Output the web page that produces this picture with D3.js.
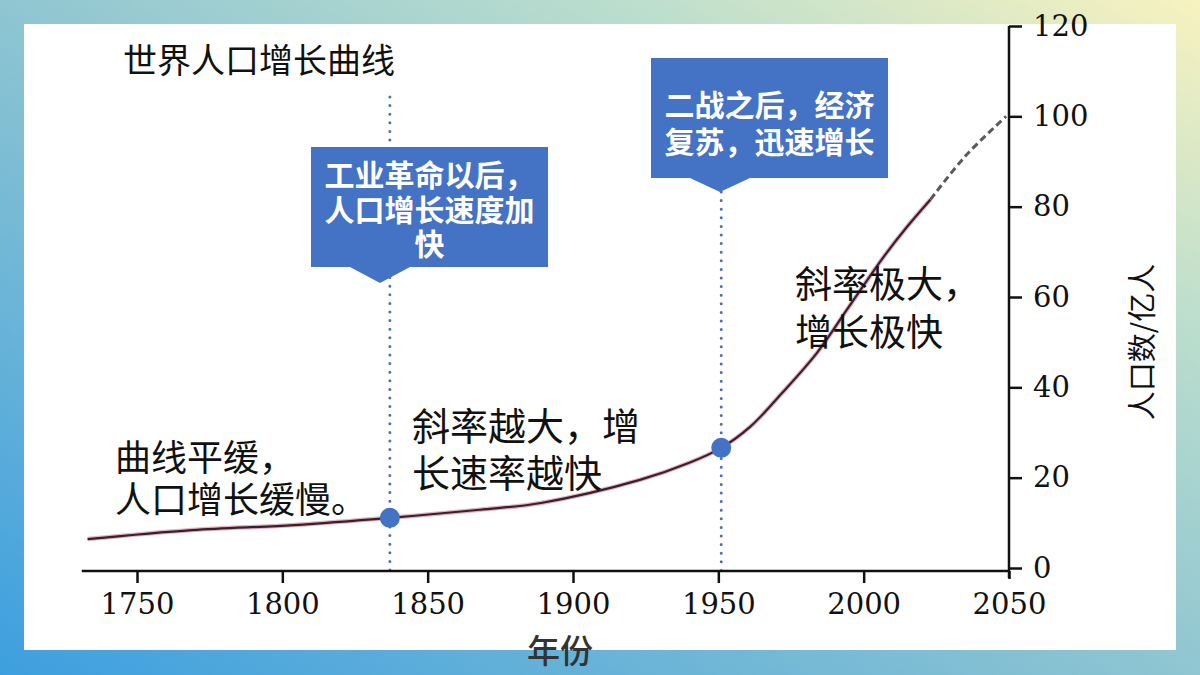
<!DOCTYPE html>
<html>
<head>
<meta charset="utf-8">
<script src="https://cdn.jsdelivr.net/npm/d3@7"></script>
<style>
  html, body { margin: 0; padding: 0; }
  svg { display: block; }
</style>
</head>
<body>
<div id="chart"></div>
<script>
// curve (year, population in 亿人)
const years = [1733, 1769, 1804, 1837, 1868, 1889, 1923, 1940, 1951, 1961, 1972, 1984, 1995, 2007, 2015, 2023];
const values = [6.4, 8.4, 9.5, 11.1, 12.9, 14.4, 19.5, 23.3, 26.6, 31.3, 38.8, 47.7, 57.9, 69.0, 75.6, 81.6];
// projection (dashed part)
const projYears = [2023, 2035, 2049];
const projValues = [81.6, 91.2, 100];
// highlighted points
const markYears = [1837, 1951];
const markValues = [11.1, 26.6];

const xTicks = [1750, 1800, 1850, 1900, 1950, 2000, 2050];
const yTicks = [0, 20, 40, 60, 80, 100, 120];

const width = 1200;
const height = 675;
const blue = '#4472c4';
const serifNum = '"DejaVu Serif", "Liberation Serif", serif';
const cjk = '"Noto Sans CJK SC", "Noto Sans", sans-serif';

const svg = d3.select('#chart').append('svg')
  .attr('width', width)
  .attr('height', height);

// background gradient and white panel
const defs = svg.append('defs');
const grad = defs.append('linearGradient')
  .attr('id', 'bg')
  .attr('x1', 0).attr('y1', 1).attr('x2', 1).attr('y2', 0);
grad.append('stop').attr('offset', '0%').attr('stop-color', '#3d9fdf');
grad.append('stop').attr('offset', '48%').attr('stop-color', '#8cc4d2');
grad.append('stop').attr('offset', '76%').attr('stop-color', '#bcdecd');
grad.append('stop').attr('offset', '100%').attr('stop-color', '#f8f2bf');

svg.append('rect').attr('width', width).attr('height', height).attr('fill', 'url(#bg)');
svg.append('rect')
  .attr('x', 24).attr('y', 24)
  .attr('width', 1152).attr('height', 626)
  .attr('fill', '#fff');

const x = d3.scaleLinear().domain([1750, 2050]).range([137, 1009]);
const y = d3.scaleLinear().domain([0, 120]).range([568, 26]);
const axisY = 571;

// dotted guide lines
const guides = [
  { year: markYears[0], top: 97 },
  { year: markYears[1], top: 192 },
];
svg.selectAll('.guide')
  .data(guides)
  .enter()
  .append('line')
  .attr('class', 'guide')
  .attr('x1', d => x(d.year))
  .attr('x2', d => x(d.year))
  .attr('y1', d => d.top)
  .attr('y2', axisY)
  .attr('stroke', '#4f6fb5')
  .attr('stroke-width', 3)
  .attr('stroke-linecap', 'round')
  .attr('stroke-dasharray', '0 8.6');

// population curve
const solid = years.map((d, i) => [d, values[i]]);
const proj = projYears.map((d, i) => [d, projValues[i]]);
const line = d3.line()
  .x(d => x(d[0]))
  .y(d => y(d[1]))
  .curve(d3.curveCatmullRom);

svg.append('path')
  .attr('d', line(solid))
  .attr('fill', 'none')
  .attr('stroke', '#e2b3c0')
  .attr('stroke-width', 4.5);
svg.append('path')
  .attr('d', line(solid))
  .attr('fill', 'none')
  .attr('stroke', '#3b1f2b')
  .attr('stroke-width', 2.2);
svg.append('path')
  .attr('d', line(proj))
  .attr('fill', 'none')
  .attr('stroke', '#5a5a5a')
  .attr('stroke-width', 3)
  .attr('stroke-dasharray', '7 4');

// x axis
const xAxis = svg.append('g')
  .attr('transform', `translate(0,${axisY})`)
  .call(d3.axisBottom(x).tickValues(xTicks).tickSize(12).tickPadding(10).tickFormat(d3.format('d')));
xAxis.select('.domain').remove();
xAxis.append('line')
  .attr('x1', x(1731)).attr('x2', x(2050))
  .attr('stroke', '#111').attr('stroke-width', 2.5);
xAxis.selectAll('.tick line').attr('stroke', '#111').attr('stroke-width', 2.5);
xAxis.selectAll('.tick text')
  .attr('fill', '#111')
  .style('font-family', serifNum)
  .style('font-size', '29px');
xAxis.selectAll('.tick').filter(d => d === 2050).select('line').attr('y2', 8);

// y axis
const yAxis = svg.append('g')
  .attr('transform', `translate(${x(2050)},0)`)
  .call(d3.axisRight(y).tickValues(yTicks).tickSize(13).tickPadding(11));
yAxis.select('.domain').remove();
yAxis.append('line')
  .attr('y1', y(120)).attr('y2', y(0) + 10)
  .attr('stroke', '#111').attr('stroke-width', 2.5);
yAxis.selectAll('.tick line').attr('stroke', '#111').attr('stroke-width', 2.5);
yAxis.selectAll('.tick text')
  .attr('fill', '#111')
  .style('font-family', serifNum)
  .style('font-size', '29px');

// axis titles
svg.append('text')
  .attr('x', 560).attr('y', 649)
  .attr('text-anchor', 'middle')
  .attr('dominant-baseline', 'central')
  .style('font-family', cjk)
  .style('font-weight', 500)
  .style('font-size', '33px')
  .attr('fill', '#333')
  .text('年份');

svg.append('text')
  .attr('transform', 'translate(1140,342) rotate(-90)')
  .attr('text-anchor', 'middle')
  .attr('dominant-baseline', 'central')
  .style('font-family', cjk)
  .style('font-size', '29px')
  .attr('fill', '#111')
  .text('人口数/亿人');

// marked points
svg.selectAll('.mark')
  .data(markYears)
  .enter()
  .append('circle')
  .attr('class', 'mark')
  .attr('cx', d => x(d))
  .attr('cy', (d, i) => y(markValues[i]))
  .attr('r', 10)
  .attr('fill', blue);

// callouts
const callouts = [
  { x0: 311, x1: 548, y0: 147, y1: 267, tip: 380, half: 30, drop: 16,
    lines: ['工业革命以后，', '人口增长速度加', '快'], top: 173, step: 34.5 },
  { x0: 651, x1: 888, y0: 58, y1: 178, tip: 720, half: 30, drop: 14,
    lines: ['二战之后，经济', '复苏，迅速增长'], top: 103, step: 37 },
];

callouts.forEach(c => {
  const p = d3.path();
  p.moveTo(c.x0, c.y0);
  p.lineTo(c.x1, c.y0);
  p.lineTo(c.x1, c.y1);
  p.lineTo(c.tip + c.half, c.y1);
  p.lineTo(c.tip, c.y1 + c.drop);
  p.lineTo(c.tip - c.half, c.y1);
  p.lineTo(c.x0, c.y1);
  p.closePath();
  svg.append('path').attr('d', p.toString()).attr('fill', blue);

  const t = svg.append('text')
    .attr('text-anchor', 'middle')
    .attr('dominant-baseline', 'central')
    .style('font-family', cjk)
    .style('font-weight', 700)
    .style('font-size', '30px')
    .attr('fill', '#fff');
  t.selectAll('tspan')
    .data(c.lines)
    .enter()
    .append('tspan')
    .attr('x', (c.x0 + c.x1) / 2)
    .attr('y', (d, i) => c.top + i * c.step)
    .text(d => d);
});

// black notes
const notes = [
  { lines: ['世界人口增长曲线'], x: 123, y: 58, step: 0, size: 34 },
  { lines: ['曲线平缓，', '人口增长缓慢。'], x: 115, y: 455, step: 42, size: 36 },
  { lines: ['斜率越大，增', '长速率越快'], x: 412, y: 423, step: 47, size: 38 },
  { lines: ['斜率极大，', '增长极快'], x: 795, y: 282, step: 48, size: 37 },
];

notes.forEach(n => {
  const t = svg.append('text')
    .attr('dominant-baseline', 'central')
    .style('font-family', cjk)
    .style('font-size', n.size + 'px')
    .attr('fill', '#111');
  t.selectAll('tspan')
    .data(n.lines)
    .enter()
    .append('tspan')
    .attr('x', n.x)
    .attr('y', (d, i) => n.y + i * n.step)
    .text(d => d);
});
</script>
</body>
</html>
